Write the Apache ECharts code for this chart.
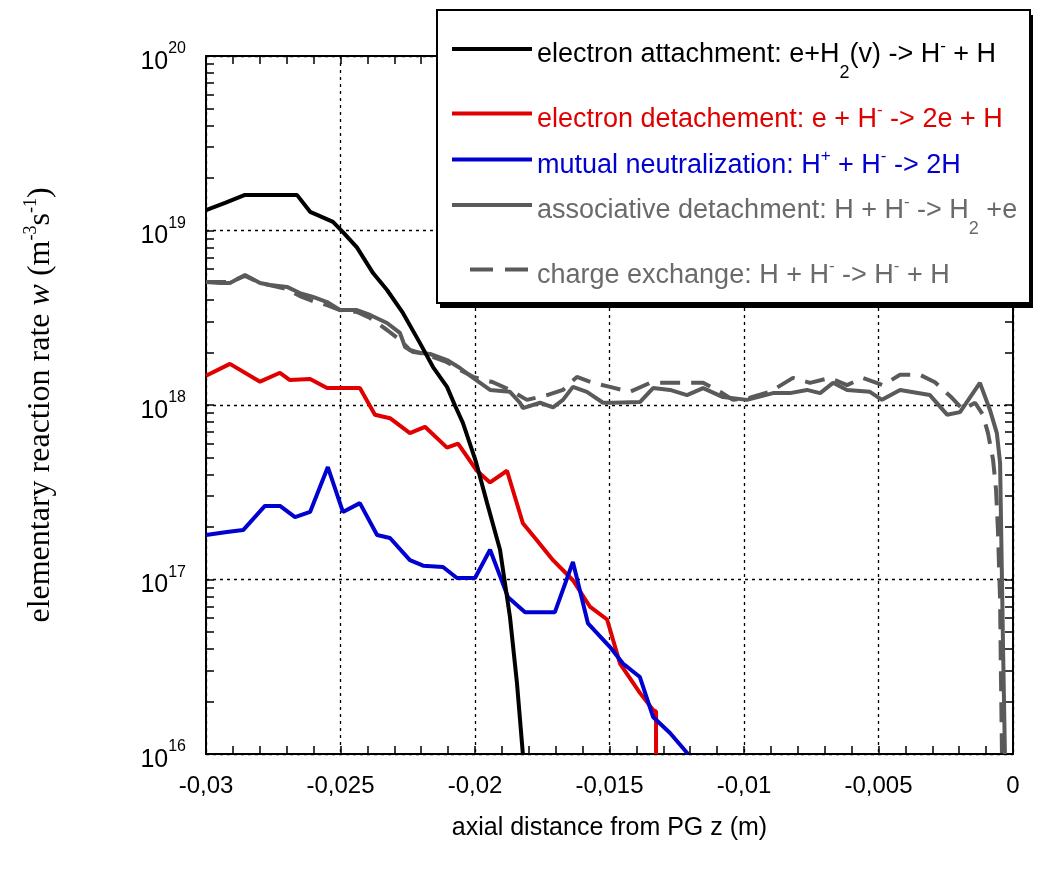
<!DOCTYPE html>
<html>
<head>
<meta charset="utf-8">
<script src="https://cdn.jsdelivr.net/npm/echarts@6.0.0/dist/echarts.min.js"></script>
<style>
  html, body { margin: 0; padding: 0; background: #fff; }
  #chart { width: 1043px; height: 876px; }
</style>
</head>
<body>
<div id="chart"></div>
<script>
// reaction rates along the axis: [z (m), w (m^-3 s^-1)]
const attachment = [
  [-0.03, 1.31e19], [-0.02929, 1.44e19], [-0.02855, 1.6e19], [-0.02762, 1.6e19], [-0.02662, 1.6e19],
  [-0.02613, 1.28e19], [-0.02587, 1.23e19], [-0.02528, 1.12e19], [-0.02491, 9.8e18], [-0.02439, 8.0e18],
  [-0.02379, 5.7e18], [-0.02327, 4.56e18], [-0.02268, 3.37e18], [-0.02205, 2.27e18], [-0.02156, 1.65e18],
  [-0.02104, 1.27e18], [-0.02074, 9.9e17], [-0.02045, 7.9e17], [-0.01996, 4.7e17], [-0.01955, 2.74e17],
  [-0.01907, 1.48e17], [-0.0187, 6.1e16], [-0.01844, 2.55e16], [-0.01822, 1.0e16]
]
const detachment = [
  [-0.03, 1.47e18], [-0.02911, 1.72e18], [-0.02799, 1.36e18], [-0.02725, 1.53e18], [-0.02688, 1.39e18],
  [-0.02613, 1.41e18], [-0.0255, 1.25e18], [-0.02428, 1.25e18], [-0.02372, 8.8e17], [-0.02316, 8.4e17],
  [-0.02242, 6.9e17], [-0.02186, 7.5e17], [-0.02104, 5.7e17], [-0.02063, 6.0e17], [-0.01993, 4.2e17],
  [-0.01944, 3.6e17], [-0.01881, 4.2e17], [-0.01822, 2.1e17], [-0.0177, 1.68e17], [-0.0171, 1.29e17],
  [-0.01636, 9.9e16], [-0.01573, 7.0e16], [-0.01509, 5.9e16], [-0.01461, 3.3e16], [-0.01387, 2.24e16],
  [-0.01338, 1.79e16], [-0.01327, 1.75e16], [-0.01327, 1.0e16]
]
const neutralization = [
  [-0.03, 1.8e17], [-0.02922, 1.87e17], [-0.02862, 1.92e17], [-0.02781, 2.64e17], [-0.02725, 2.64e17],
  [-0.02669, 2.28e17], [-0.02613, 2.44e17], [-0.02547, 4.41e17], [-0.02491, 2.44e17], [-0.02428, 2.74e17],
  [-0.02364, 1.8e17], [-0.02316, 1.73e17], [-0.02242, 1.29e17], [-0.02193, 1.2e17], [-0.02119, 1.18e17],
  [-0.02067, 1.02e17], [-0.02, 1.02e17], [-0.01944, 1.48e17], [-0.01877, 7.9e16], [-0.01814, 6.5e16],
  [-0.01703, 6.5e16], [-0.01636, 1.26e17], [-0.0158, 5.6e16], [-0.01498, 4.1e16], [-0.0145, 3.3e16],
  [-0.01387, 2.76e16], [-0.01338, 1.63e16], [-0.01275, 1.32e16], [-0.01208, 1.0e16]
]
const associative = [
  [-0.03, 5.07e18], [-0.02948, 5.0e18], [-0.02911, 5.0e18], [-0.02855, 5.56e18], [-0.02799, 5.0e18],
  [-0.02762, 4.87e18], [-0.02699, 4.75e18], [-0.02651, 4.38e18], [-0.02602, 4.16e18], [-0.0255, 3.89e18],
  [-0.02502, 3.5e18], [-0.02439, 3.5e18], [-0.0239, 3.28e18], [-0.02327, 2.95e18], [-0.02279, 2.59e18],
  [-0.0226, 2.15e18], [-0.0223, 2.01e18], [-0.02167, 1.96e18], [-0.02104, 1.81e18], [-0.02056, 1.63e18],
  [-0.02007, 1.43e18], [-0.01944, 1.22e18], [-0.0187, 1.19e18], [-0.01833, 1.03e18], [-0.01822, 9.6e17],
  [-0.01758, 1.03e18], [-0.0171, 9.7e17], [-0.01673, 1.07e18], [-0.01636, 1.27e18], [-0.01584, 1.19e18],
  [-0.01524, 1.03e18], [-0.01487, 1.03e18], [-0.01387, 1.04e18], [-0.01338, 1.25e18], [-0.01275, 1.22e18],
  [-0.01212, 1.14e18], [-0.01152, 1.25e18], [-0.01078, 1.11e18], [-0.00989, 1.07e18], [-0.00892, 1.17e18],
  [-0.00829, 1.17e18], [-0.00766, 1.22e18], [-0.00717, 1.17e18], [-0.00669, 1.34e18], [-0.00617, 1.22e18],
  [-0.00532, 1.19e18], [-0.00487, 1.07e18], [-0.0042, 1.22e18], [-0.00309, 1.14e18], [-0.00245, 8.8e17],
  [-0.00197, 9.1e17], [-0.00123, 1.34e18], [-0.00086, 9.4e17], [-0.0006, 6.9e17], [-0.00048, 4.65e17],
  [-0.00041, 9.9e16], [-0.00037, 4.1e16], [-0.0003, 1.0e16]
]
const chargeExchange = [
  [-0.03, 5.07e18], [-0.02911, 5.07e18], [-0.02855, 5.49e18], [-0.02799, 5.0e18], [-0.02699, 4.62e18],
  [-0.02651, 4.21e18], [-0.02602, 3.94e18], [-0.0255, 3.74e18], [-0.02502, 3.5e18], [-0.02439, 3.41e18],
  [-0.0239, 3.15e18], [-0.02327, 2.69e18], [-0.02279, 2.36e18], [-0.02242, 2.07e18], [-0.02167, 1.91e18],
  [-0.02104, 1.76e18], [-0.02056, 1.59e18], [-0.02007, 1.45e18], [-0.01933, 1.35e18], [-0.0187, 1.22e18],
  [-0.01807, 1.07e18], [-0.01732, 1.14e18], [-0.01673, 1.22e18], [-0.01621, 1.45e18], [-0.01561, 1.34e18],
  [-0.01498, 1.27e18], [-0.01424, 1.19e18], [-0.01349, 1.34e18], [-0.01286, 1.34e18], [-0.01227, 1.34e18],
  [-0.01152, 1.34e18], [-0.01089, 1.19e18], [-0.01041, 1.07e18], [-0.00978, 1.1e18], [-0.00903, 1.19e18],
  [-0.00818, 1.43e18], [-0.00755, 1.34e18], [-0.0068, 1.43e18], [-0.00617, 1.3e18], [-0.00558, 1.43e18],
  [-0.00483, 1.3e18], [-0.0042, 1.49e18], [-0.00346, 1.49e18], [-0.0029, 1.35e18], [-0.00227, 1.1e18],
  [-0.00186, 9.4e17], [-0.00141, 1.03e18], [-0.00112, 8.8e17], [-0.00093, 6.9e17], [-0.00074, 4.84e17],
  [-0.00063, 3.26e17], [-0.00056, 1.92e17], [-0.00048, 7.6e16], [-0.00045, 3.0e16], [-0.00041, 1.0e16]
]

const xTickLabels = ['-0,03', '-0,025', '-0,02', '-0,015', '-0,01', '-0,005', '0']
const yExponents = ['16', '17', '18', '19', '20']

const SANS = '"Liberation Sans", Arial, sans-serif'
const SERIF = '"Liberation Serif", "Times New Roman", serif'

// minor ticks: every 0.001 on z, 1..9 per decade on w
var xMinor = []
for (var i = 0; i <= 30; i++) xMinor.push(+(-0.03 + i * 0.001).toFixed(3))
var yMinor = []
for (var e = 16; e < 20; e++) {
  for (var k = 1; k < 10; k++) yMinor.push(k * Math.pow(10, e))
}
yMinor.push(1e20)

const gridDash = { color: '#000', width: 1.3, type: [3, 4] }

function xAxis(pos) {
  return {
    type: 'value',
    position: pos,
    min: -0.03,
    max: 0,
    interval: 0.005,
    axisLine: { onZero: false, lineStyle: { color: '#000', width: 2 } },
    axisTick: { inside: true, length: 8, customValues: xMinor, lineStyle: { color: '#000', width: 1.5 } },
    axisLabel: {
      show: pos === 'bottom',
      margin: 20,
      color: '#000',
      fontFamily: SANS,
      fontSize: 24,
      formatter: function (v) { return xTickLabels[Math.round((v + 0.03) / 0.005)] }
    },
    splitLine: { show: false }
  }
}

function yAxis(pos) {
  return {
    type: 'log',
    logBase: 10,
    position: pos,
    min: 1e16,
    max: 1e20,
    axisLine: { onZero: false, lineStyle: { color: '#000', width: 2 } },
    axisTick: { inside: true, length: 8, customValues: yMinor, lineStyle: { color: '#000', width: 1.5 } },
    axisLabel: {
      show: pos === 'left',
      margin: 20,
      color: '#000',
      formatter: function (v) {
        return '{b|10}{s|' + yExponents[Math.round(Math.log10(v)) - 16] + '}'
      },
      rich: {
        b: { fontFamily: SANS, fontSize: 25, lineHeight: 50, padding: [12, 0, 0, 0] },
        s: { fontFamily: SANS, fontSize: 16, lineHeight: 50, padding: [0, 0, 14, 0] }
      }
    },
    splitLine: { show: false }
  }
}

var xBottom = xAxis('bottom')
xBottom.name = 'axial distance from PG z (m)'
xBottom.nameLocation = 'middle'
xBottom.nameGap = 62
xBottom.nameTextStyle = { fontFamily: SANS, fontSize: 25, color: '#000' }

var yLeft = yAxis('left')
yLeft.name = '{a|elementary reaction rate }{i|w}{a| (m}{s|-3}{a|s}{s|-1}{a|)}'
yLeft.nameLocation = 'middle'
yLeft.nameGap = 140
yLeft.nameTextStyle = {
  color: '#000',
  rich: {
    a: { fontFamily: SERIF, fontSize: 32, lineHeight: 50 },
    i: { fontFamily: SERIF, fontSize: 32, fontStyle: 'italic', lineHeight: 50 },
    s: { fontFamily: SERIF, fontSize: 18, lineHeight: 50, padding: [0, 0, 20, 0] }
  }
}

// axes that only carry the dotted grid at the major ticks
var xGrid = {
  type: 'value', position: 'bottom', min: -0.03, max: 0, interval: 0.005,
  axisLine: { show: false }, axisTick: { show: false }, axisLabel: { show: false },
  splitLine: { show: true, lineStyle: gridDash }
}
var yGrid = {
  type: 'log', logBase: 10, position: 'left', min: 1e16, max: 1e20,
  axisLine: { show: false, onZero: false }, axisTick: { show: false }, axisLabel: { show: false },
  splitLine: { show: true, lineStyle: gridDash }
}

function legendRich(color) {
  return {
    color: color,
    rich: {
      n: { fontFamily: SANS, fontSize: 27, lineHeight: 80, color: color, padding: [12, 0, 0, 0] },
      sub: { fontFamily: SANS, fontSize: 18, lineHeight: 80, color: color, padding: [48, 0, 0, 0] },
      sup: { fontFamily: SANS, fontSize: 17, lineHeight: 80, color: color, padding: [0, 0, 6, 0] }
    }
  }
}

const legendText = {
  attach: '{n|electron attachment: e+H}{sub|2}{n|(v) -> H}{sup|-}{n| + H}',
  detach: '{n|electron detachement: e + H}{sup|-}{n| -> 2e + H}',
  neutral: '{n|mutual neutralization: H}{sup|+}{n| + H}{sup|-}{n| -> 2H}',
  assoc: '{n|associative detachment: H + H}{sup|-}{n| -> H}{sub|2}{n| +e}',
  charge: '{n|charge exchange: H + H}{sup|-}{n| -> H}{sup|-}{n| + H}'
}

function legendItem(name, top, icon, textColor) {
  return {
    show: true,
    z: 60,
    orient: 'vertical',
    left: 452,
    top: top,
    padding: 0,
    selectedMode: false,
    itemWidth: 80,
    itemHeight: 4,
    icon: icon,
    itemStyle: { borderWidth: 0 },
    data: [name],
    formatter: function (n) { return legendText[n] },
    textStyle: legendRich(textColor)
  }
}

const DASH_ICON = 'path://M0,0L0,4M18,0H41V4H18ZM53,0H76V4H53ZM80,0L80,4'

function lineSeries(name, data, color, dashed) {
  return {
    name: name,
    type: 'line',
    data: data,
    symbol: 'none',
    color: color,
    itemStyle: { color: color },
    lineStyle: { color: color, width: 4, type: dashed ? [20, 11] : 'solid' },
    animation: false
  }
}

const chart = echarts.init(document.getElementById('chart'))
const option = {
  backgroundColor: '#fff',
  animation: false,
  grid: { left: 206, right: 30, top: 56, bottom: 122, containLabel: false },
  xAxis: [xBottom, xAxis('top'), xGrid],
  yAxis: [yLeft, yAxis('right'), yGrid],
  graphic: [{
    type: 'rect',
    z: 49,
    shape: { x: 440, y: 15, width: 593, height: 293 },
    style: { fill: '#000' }
  }, {
    type: 'rect',
    z: 50,
    shape: { x: 437, y: 10, width: 593, height: 293 },
    style: { fill: '#fff', stroke: '#000', lineWidth: 2 }
  }],
  legend: [
    legendItem('attach', 16, 'rect', '#000000'),
    legendItem('detach', 94, 'rect', '#e00000'),
    legendItem('neutral', 140, 'rect', '#0000d0'),
    legendItem('assoc', 172, 'rect', '#6a6a6a'),
    legendItem('charge', 250, DASH_ICON, '#6a6a6a')
  ],
  series: [
    lineSeries('charge', chargeExchange, '#5a5a5a', true),
    lineSeries('assoc', associative, '#5a5a5a', false),
    lineSeries('detach', detachment, '#e00000', false),
    lineSeries('neutral', neutralization, '#0000d0', false),
    lineSeries('attach', attachment, '#000000', false)
  ]
}
chart.setOption(option)
</script>
</body>
</html>
